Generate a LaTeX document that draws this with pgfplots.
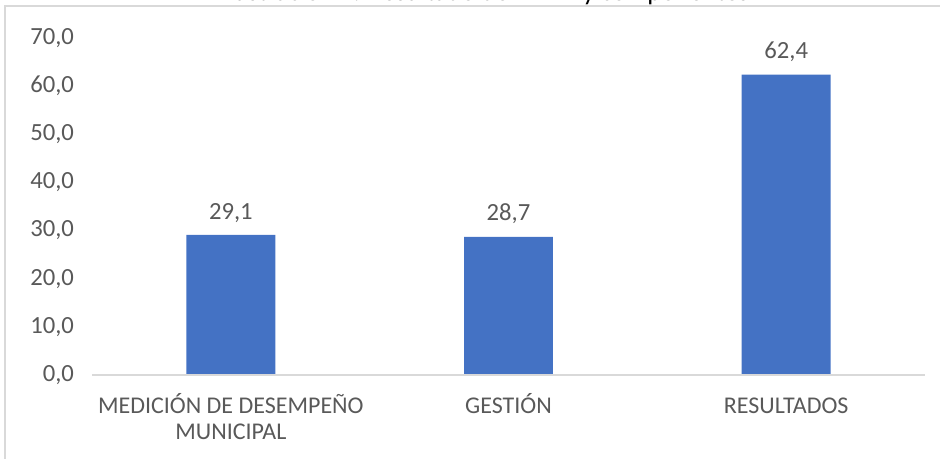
\documentclass[border=0pt]{standalone}
\usepackage{pgfplots}
\pgfplotsset{compat=1.18}
\usepackage{fontspec}
\setmainfont{Carlito}
\definecolor{barblue}{HTML}{4472C4}
\definecolor{txt}{HTML}{595959}
\definecolor{frame}{HTML}{D9D9D9}
\begin{document}
\begin{tikzpicture}[x=0.75pt,y=0.75pt]
\useasboundingbox (0,0) rectangle (940,458);
\begin{scope}
\clip (0,0) rectangle (940,458);
\draw[frame, line width=1pt] (5,-20) -- (5,452) -- (960,452);
\node[anchor=base, font=\fontsize{20}{24}\selectfont, text=black] at (485,457) {Ilustración 1. Resultado de MDM y componentes};
\end{scope}
\begin{axis}[
  at={(69pt,62.25pt)}, anchor=south west,
  scale only axis, width=624.75pt, height=252.75pt,
  ymin=0, ymax=70, xmin=-0.5, xmax=2.5,
  ytick={0,10,...,70},
  xtick=data,
  xticklabels={{MEDICIÓN DE DESEMPEÑO\\MUNICIPAL},{GESTIÓN},{\vphantom{Ó}RESULTADOS}},
  xticklabel style={align=center, text=txt, font=\fontsize{18}{20}\selectfont, anchor=north, yshift=-10pt},
  yticklabel style={text=txt, font=\fontsize{18.5}{21}\selectfont, xshift=-10pt},
  /pgf/number format/assume math mode=true,
  yticklabel={\pgfmathprintnumber[fixed, fixed zerofill, precision=1, use comma]{\tick}},
  major tick length=0pt,
  axis x line*=bottom,
  axis y line*=left,
  axis line style={draw=none},
  ybar, bar width=0.32,
  nodes near coords,
  nodes near coords style={text=txt, font=\fontsize{18.5}{21}\selectfont, yshift=6pt,
    /pgf/number format/.cd, fixed, fixed zerofill, precision=1, use comma, assume math mode=true},
  clip=false,
]
\addplot[fill=barblue, draw=none] coordinates {(0,29.1) (1,28.7) (2,62.4)};
\draw[frame, line width=1pt] (axis cs:-0.5,0) -- (axis cs:2.5,0);
\end{axis}
\end{tikzpicture}
\end{document}
